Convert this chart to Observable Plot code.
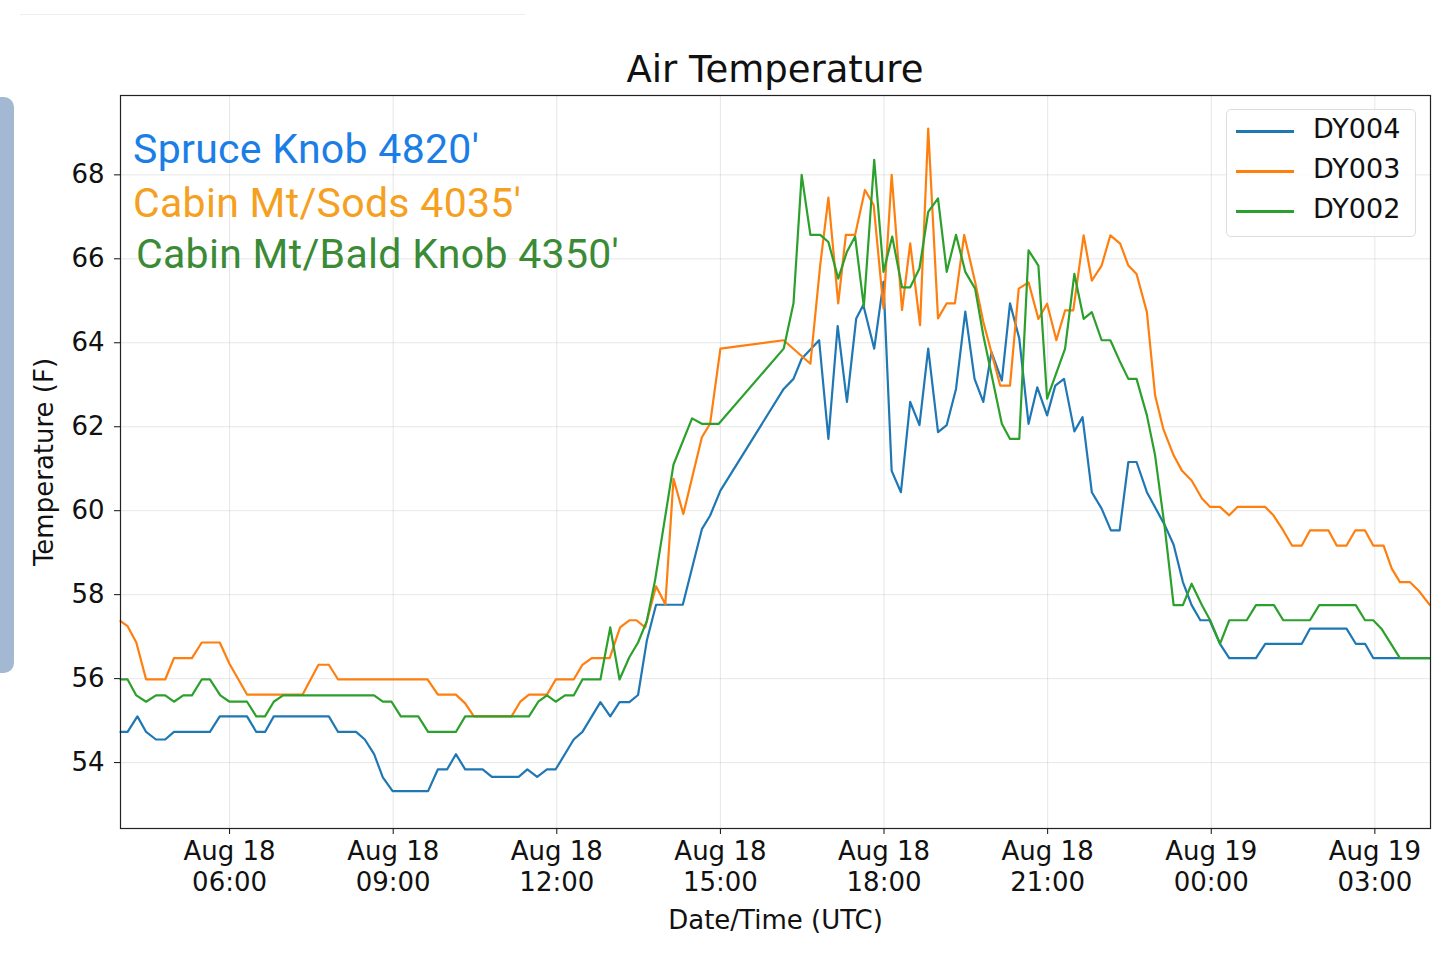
<!DOCTYPE html>
<html><head><meta charset="utf-8">
<script src="https://cdn.jsdelivr.net/npm/d3@7"></script>
<script src="https://cdn.jsdelivr.net/npm/@observablehq/plot@0.6"></script>
<style>
body{margin:0;background:#fff;font-family:"DejaVu Sans",sans-serif;}
#wrap{position:relative;width:1437px;height:959px;overflow:hidden;}
.abs{position:absolute;white-space:nowrap;}
</style></head><body><div id="wrap"></div>
<script>
// hours since Aug 18 00:00 UTC
const dy004Hours=[4.0,4.13,4.31,4.47,4.65,4.82,4.98,5.64,5.82,6.32,6.49,6.65,6.81,7.82,7.99,8.32,8.48,8.65,8.81,8.99,9.64,9.82,9.99,10.15,10.32,10.64,10.81,11.3,11.46,11.64,11.82,11.98,12.31,12.47,12.8,12.98,13.15,13.33,13.49,13.65,13.82,14.31,14.66,14.81,15.0,16.16,16.34,16.49,16.81,16.98,17.15,17.32,17.49,17.62,17.82,17.99,18.14,18.31,18.48,18.65,18.81,18.99,19.15,19.32,19.49,19.66,19.82,19.97,20.16,20.31,20.48,20.65,20.81,20.99,21.14,21.3,21.49,21.64,21.81,21.99,22.16,22.32,22.48,22.63,22.82,23.15,23.31,23.48,23.64,23.8,23.97,24.16,24.33,24.82,24.99,25.66,25.81,26.48,26.65,26.82,26.97,28.01];
const dy004Temps=[54.73,54.73,55.1,54.73,54.55,54.55,54.73,54.73,55.1,55.1,54.73,54.73,55.1,55.1,54.73,54.73,54.55,54.2,53.65,53.32,53.32,53.84,53.84,54.2,53.84,53.84,53.66,53.66,53.84,53.66,53.84,53.84,54.55,54.73,55.44,55.1,55.44,55.44,55.61,56.9,57.76,57.76,59.56,59.88,60.48,62.9,63.14,63.62,64.06,61.71,64.4,62.59,64.58,64.9,63.86,65.45,60.95,60.44,62.59,62.04,63.86,61.87,62.04,62.9,64.74,63.14,62.59,63.78,63.1,64.94,64.1,62.07,62.94,62.27,62.98,63.14,61.89,62.23,60.44,60.05,59.53,59.53,61.16,61.16,60.44,59.65,59.19,58.3,57.75,57.39,57.39,56.83,56.49,56.49,56.83,56.83,57.19,57.19,56.83,56.83,56.49,56.49];
const dy003Hours=[4.0,4.13,4.29,4.47,4.82,4.98,5.31,5.49,5.82,6.0,6.32,7.34,7.63,7.82,7.99,9.63,9.82,10.15,10.32,10.48,11.17,11.33,11.49,11.82,11.98,12.31,12.47,12.64,12.97,13.16,13.33,13.46,13.62,13.82,13.99,14.14,14.32,14.66,14.81,15.0,16.16,16.65,16.83,16.98,17.16,17.3,17.47,17.65,17.81,17.99,18.14,18.33,18.48,18.66,18.81,18.99,19.15,19.3,19.47,19.67,19.82,20.13,20.31,20.47,20.65,20.83,20.99,21.16,21.32,21.47,21.66,21.81,21.99,22.15,22.33,22.48,22.63,22.82,22.97,23.12,23.31,23.46,23.64,23.83,23.98,24.16,24.33,24.48,24.99,25.14,25.32,25.48,25.66,25.81,26.15,26.3,26.48,26.64,26.82,26.97,27.16,27.31,27.46,27.64,27.8,28.01];
const dy003Temps=[57.37,57.25,56.86,55.98,55.98,56.49,56.49,56.86,56.86,56.35,55.62,55.62,56.33,56.33,55.98,55.98,55.62,55.62,55.41,55.1,55.1,55.45,55.62,55.62,55.98,55.98,56.33,56.49,56.49,57.22,57.39,57.39,57.22,58.2,57.77,60.76,59.92,61.75,62.07,63.86,64.06,63.5,65.85,67.46,64.94,66.57,66.57,67.64,67.28,64.82,68.0,64.78,66.37,64.42,69.1,64.58,64.94,64.94,66.57,65.45,64.5,62.98,62.98,65.29,65.44,64.57,64.93,64.06,64.77,64.77,66.56,65.48,65.84,66.56,66.36,65.84,65.64,64.73,62.75,61.95,61.32,60.96,60.72,60.29,60.09,60.09,59.89,60.09,60.09,59.89,59.53,59.17,59.17,59.53,59.53,59.17,59.17,59.53,59.53,59.17,59.17,58.62,58.3,58.3,58.1,57.75];
const dy002Hours=[4.0,4.13,4.29,4.47,4.65,4.82,4.98,5.15,5.31,5.49,5.64,5.83,6.0,6.32,6.49,6.65,6.81,6.98,8.65,8.81,8.97,9.14,9.46,9.64,10.15,10.32,11.49,11.66,11.82,11.98,12.15,12.31,12.47,12.8,12.98,13.15,13.33,13.49,13.65,13.8,14.14,14.48,14.66,14.97,16.16,16.34,16.49,16.65,16.83,16.98,17.16,17.32,17.47,17.63,17.82,17.99,18.15,18.33,18.48,18.65,18.81,18.99,19.15,19.32,19.49,19.67,19.82,20.16,20.31,20.48,20.65,20.83,20.99,21.32,21.49,21.66,21.81,21.99,22.15,22.33,22.48,22.63,22.82,22.97,23.15,23.31,23.48,23.64,23.83,23.98,24.16,24.33,24.65,24.82,25.15,25.32,25.81,25.98,26.65,26.82,26.97,27.12,27.46,28.01];
const dy002Temps=[55.98,55.98,55.6,55.45,55.6,55.6,55.45,55.6,55.6,55.98,55.98,55.6,55.45,55.45,55.1,55.1,55.45,55.6,55.6,55.45,55.45,55.1,55.1,54.73,54.73,55.1,55.1,55.45,55.6,55.45,55.6,55.6,55.98,55.98,57.22,55.98,56.51,56.86,57.37,58.33,61.1,62.2,62.07,62.07,63.86,64.94,68.0,66.57,66.57,66.4,65.53,66.17,66.53,64.86,68.36,65.69,66.53,65.32,65.32,65.77,67.12,67.44,65.69,66.57,65.69,65.29,64.18,62.07,61.71,61.71,66.2,65.84,62.67,63.86,65.64,64.57,64.73,64.06,64.06,63.54,63.14,63.14,62.27,61.32,59.57,57.75,57.75,58.26,57.75,57.39,56.83,57.39,57.39,57.75,57.75,57.39,57.39,57.75,57.75,57.39,57.39,57.19,56.49,56.49];
const seriesNames=["DY004","DY003","DY002"];
const seriesColors=["#1f77b4","#ff7f0e","#2ca02c"];
const yTicks=[54,56,58,60,62,64,66,68];
const xTickHours=[6,9,12,15,18,21,24,27];
const stations=["Spruce Knob 4820'","Cabin Mt/Sods 4035'","Cabin Mt/Bald Knob 4350'"];
const stationColors=["#1a7ee6","#f5a020","#3a8a36"];

const base=Date.UTC(2018,7,18,0);
const t=h=>new Date(base+h*3600e3);
const rows=[];
[[dy004Hours,dy004Temps],[dy003Hours,dy003Temps],[dy002Hours,dy002Temps]].forEach(([hs,vs],i)=>{
  hs.forEach((h,j)=>rows.push({t:t(h),v:vs[j],s:seriesNames[i]}));
});
const fmt=d=>d3.utcFormat("%b %d")(d)+"\n"+d3.utcFormat("%H:%M")(d);
const chart=Plot.plot({
  width:1437,height:959,marginLeft:120,marginRight:7,marginTop:95,marginBottom:131,
  style:{fontFamily:"DejaVu Sans",fontSize:"27px",color:"#111",background:"white"},
  x:{type:"utc",domain:[t(4),t(28.02)]},
  y:{domain:[52.43,69.89]},
  color:{domain:seriesNames,range:seriesColors},
  marks:[
    Plot.gridX(xTickHours.map(t),{stroke:"#b0b0b0",strokeOpacity:0.3}),
    Plot.gridY(yTicks,{stroke:"#b0b0b0",strokeOpacity:0.3}),
    Plot.axisX(xTickHours.map(t),{tickFormat:fmt,tickSize:6,tickPadding:3,lineHeight:1.2,fontSize:26,label:"Date/Time (UTC)",labelAnchor:"center",labelOffset:100,labelArrow:"none"}),
    Plot.axisY(yTicks,{tickSize:6,tickPadding:10,fontSize:26,label:"Temperature (F)",labelAnchor:"center",labelOffset:86,labelArrow:"none"}),
    Plot.line(rows,{x:"t",y:"v",z:"s",stroke:"s",strokeWidth:2.2}),
    Plot.frame({stroke:"#222",strokeWidth:1.2})
  ]
});
const wrap=document.getElementById("wrap");
wrap.appendChild(chart);
chart.style.position="absolute";chart.style.left="0";chart.style.top="0";
const add=(html,css)=>{const d=document.createElement("div");d.className="abs";d.innerHTML=html;Object.assign(d.style,css);wrap.appendChild(d);return d;};
add("",{left:"-10px",top:"97px",width:"24px",height:"576px",background:"#a3b9d3",borderRadius:"10px"});
add("",{left:"20px",top:"14px",width:"505px",height:"1px",background:"#eee"});
add("Air Temperature",{left:"0",width:"1550px",textAlign:"center",top:"48px",fontSize:"37px",color:"#111"});
const ann=[[133,125],[133,179],[136,230]];
stations.forEach((s,i)=>add(s,{left:ann[i][0]+"px",top:ann[i][1]+"px",fontSize:"41px",fontFamily:"Roboto",letterSpacing:"0.3px",color:stationColors[i]}));
add("",{left:"1226px",top:"109px",width:"188px",height:"126px",border:"1.5px solid #ddd",borderRadius:"5px",background:"rgba(255,255,255,0.8)"});
seriesNames.forEach((n,i)=>{
  add("",{left:"1236px",top:(130+i*40)+"px",width:"58px",height:"2.5px",background:seriesColors[i]});
  add(n,{left:"1313px",top:(113+i*40)+"px",fontSize:"27px",color:"#111"});
});
</script></body></html>
